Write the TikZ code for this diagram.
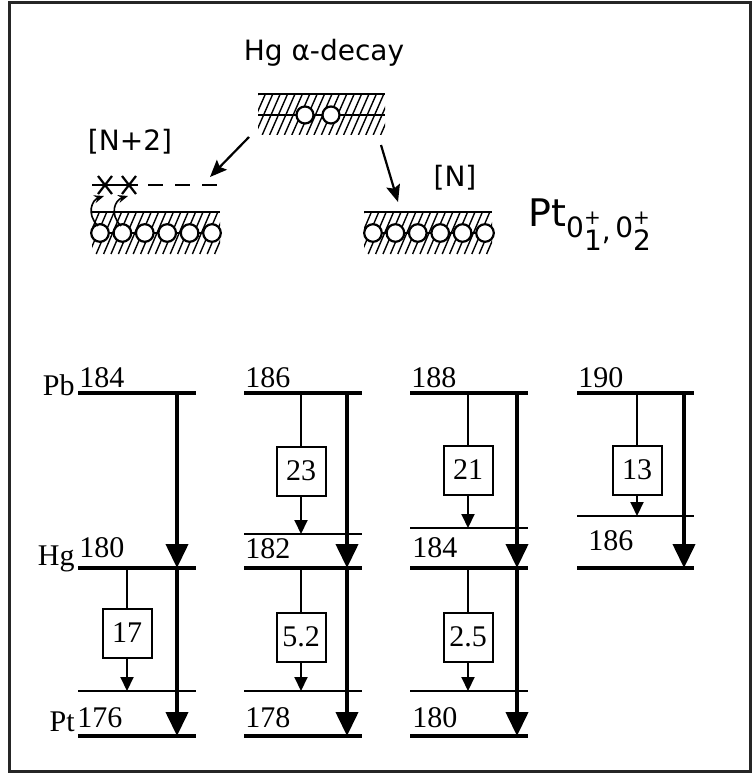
\documentclass[tikz,border=0pt]{standalone}
\usepackage{fontspec}
\setmainfont{Liberation Serif}
\newfontfamily\sketchfont{DejaVu Sans}
\usetikzlibrary{arrows.meta, positioning, calc}

% hatched band: x1, x2, ytop, ybottom
\newcommand{\hatchband}[4]{%
  \begin{scope}
    \clip (#1,#3) rectangle (#2,#4);
    \foreach \hx in {0,7.4,...,160}
      \draw[hatch] ({#1-18+\hx},#4) -- ({#1+\hx},#3);
  \end{scope}}

% 0^+_i state label
\newcommand{\pstate}[1]{\raisebox{-5.5pt}{0}\rlap{\raisebox{1.5pt}{\fontsize{10}{10}\selectfont +}}\raisebox{-12pt}{#1}}

\begin{document}
\begin{tikzpicture}[x=0.5pt, y=-0.5pt,
  level/.style={line width=2pt},
  sublevel/.style={line width=1pt},
  bigdecay/.style={line width=2pt, -{Triangle[length=12pt,width=11pt]}},
  smalldecay/.style={line width=1pt, -{Triangle[length=7pt,width=6.5pt]}},
  feed/.style={line width=1pt},
  ratio/.style={draw, line width=1pt, minimum size=24.5pt, inner sep=0pt, font=\fontsize{15}{15}\selectfont},
  mass/.style={anchor=base west, inner sep=0pt, font=\fontsize{15}{15}\selectfont},
  elem/.style={anchor=base east, inner sep=0pt, font=\fontsize{15}{15}\selectfont},
  hatch/.style={line width=0.7pt},
  band/.style={line width=1.1pt},
  sketch/.style={font=\sketchfont\fontsize{14}{16}\selectfont},
  decay/.style={line width=1.1pt, -{Stealth[length=8.5pt,width=7pt,inset=1.5pt]}},
  hop/.style={line width=0.8pt, -{Stealth[length=5pt,width=4pt]}}
]
  \useasboundingbox (0,0) rectangle (754,775);
  \draw[line width=1.5pt, black!85] (9,3) rectangle (750,771);

  % Sketch: Hg alpha-decay
  \node[sketch] (title) at (324,53) {Hg α-decay};
  \hatchband{258}{385}{94}{135}
  \draw[band] (258,94) -- (385,94);
  \draw[band] (258,115) -- (385,115);
  \foreach \cx in {305,331}
    \draw[band, fill=white] (\cx,115) circle[radius=8.5];

  % Pt [N+2]
  \node[sketch] (npair) at (130,142) {[N+2]};
  \hatchband{92}{220}{212}{254}
  \draw[band] (92,212) -- (220,212);
  \draw[band] (100,233) -- (212,233);
  \foreach \k in {0,...,5}
    \draw[band, fill=white] ({100+22.4*\k},233) circle[radius=8.8];
  \draw[band] (92,185) -- (138,185);
  \draw[band, dash pattern=on 7.5pt off 6pt] (148,185) -- (220,185);
  \foreach \cx in {105,129}
    \draw[band] (\cx-7,176) -- (\cx+7,194) (\cx-7,194) -- (\cx+7,176);
  \coordinate (h1) at (98,226);  \coordinate (x1) at (104,196);
  \coordinate (h2) at (121,226); \coordinate (x2) at (128,196);
  \draw[hop] (h1) .. controls (86,214) and (92,200) .. (x1);
  \draw[hop] (h2) .. controls (109,214) and (115,200) .. (x2);

  % Pt [N]
  \node[sketch] (nsingle) at (455,178) {[N]};
  \hatchband{364}{492}{212}{254}
  \draw[band] (364,212) -- (492,212);
  \draw[band] (373,233) -- (485,233);
  \foreach \k in {0,...,5}
    \draw[band, fill=white] ({373+22.4*\k},233) circle[radius=8.8];
  \node[anchor=base west, inner sep=0pt, font=\sketchfont\fontsize{19}{19}\selectfont] (ptstates) at (528,227)
    {Pt{\fontsize{14}{14}\selectfont\pstate{1}\raisebox{-7pt}{,}\,\pstate{2}}};

  % decay arrows of the sketch
  \coordinate (hgl) at (249,137); \coordinate (npl) at (210,177);
  \coordinate (hgr) at (381,145); \coordinate (nsl) at (398,202);
  \draw[decay] (hgl) -- (npl);
  \draw[decay] (hgr) -- (nsl);

  % Element labels
  \node[elem] (pb) at (75,395) {Pb};
  \node[elem] (hg) at (75,565) {Hg};
  \node[elem] (pt) at (75,731) {Pt};

  % Column 1: 184 -> 180 -> 176
  \draw[level] (78,393) -- (196,393);
  \draw[level] (78,568) -- (196,568);
  \draw[sublevel] (78,691) -- (196,691);
  \draw[level] (78,736) -- (196,736);
  \node[mass] at (79,387) {184};
  \node[mass] at (79,557) {180};
  \node[mass] at (77,727) {176};
  \coordinate (c1pb) at (177,393);
  \coordinate (c1hg) at (177,568);
  \coordinate (c1x)  at (177,691);
  \coordinate (c1pt) at (177,736);
  \draw[bigdecay] (c1pb) -- (c1hg);
  \draw[bigdecay] (c1hg) -- (c1pt);
  \node[ratio] (r17) at (127,633) {17};
  \draw[feed] (r17 |- c1hg) -- (r17.north);
  \draw[smalldecay] (r17.south) -- (r17 |- c1x);

  % Column 2: 186 -> 182 -> 178
  \draw[level] (244,393) -- (362,393);
  \draw[sublevel] (244,534) -- (362,534);
  \draw[level] (244,568) -- (362,568);
  \draw[sublevel] (244,691) -- (362,691);
  \draw[level] (244,736) -- (362,736);
  \node[mass] at (245,387) {186};
  \node[mass] at (245,558) {182};
  \node[mass] at (245,727) {178};
  \coordinate (c2pb) at (347,393);
  \coordinate (c2x1) at (347,534);
  \coordinate (c2hg) at (347,568);
  \coordinate (c2x2) at (347,691);
  \coordinate (c2pt) at (347,736);
  \draw[bigdecay] (c2pb) -- (c2hg);
  \draw[bigdecay] (c2hg) -- (c2pt);
  \node[ratio] (r23) at (301,471) {23};
  \draw[feed] (r23 |- c2pb) -- (r23.north);
  \draw[smalldecay] (r23.south) -- (r23 |- c2x1);
  \node[ratio] (r52) at (301,637) {5.2};
  \draw[feed] (r52 |- c2hg) -- (r52.north);
  \draw[smalldecay] (r52.south) -- (r52 |- c2x2);

  % Column 3: 188 -> 184 -> 180
  \draw[level] (410,393) -- (528,393);
  \draw[sublevel] (410,528) -- (528,528);
  \draw[level] (410,568) -- (528,568);
  \draw[sublevel] (410,691) -- (528,691);
  \draw[level] (410,736) -- (528,736);
  \node[mass] at (411,387) {188};
  \node[mass] at (412,557) {184};
  \node[mass] at (412,727) {180};
  \coordinate (c3pb) at (517,393);
  \coordinate (c3x1) at (517,528);
  \coordinate (c3hg) at (517,568);
  \coordinate (c3x2) at (517,691);
  \coordinate (c3pt) at (517,736);
  \draw[bigdecay] (c3pb) -- (c3hg);
  \draw[bigdecay] (c3hg) -- (c3pt);
  \node[ratio] (r21) at (468,470) {21};
  \draw[feed] (r21 |- c3pb) -- (r21.north);
  \draw[smalldecay] (r21.south) -- (r21 |- c3x1);
  \node[ratio] (r25) at (468,637) {2.5};
  \draw[feed] (r25 |- c3hg) -- (r25.north);
  \draw[smalldecay] (r25.south) -- (r25 |- c3x2);

  % Column 4: 190 -> 186
  \draw[level] (577,393) -- (694,393);
  \draw[sublevel] (577,516) -- (694,516);
  \draw[level] (577,568) -- (694,568);
  \node[mass] at (578,387) {190};
  \node[mass] at (588,550) {186};
  \coordinate (c4pb) at (684,393);
  \coordinate (c4x1) at (684,516);
  \coordinate (c4hg) at (684,568);
  \draw[bigdecay] (c4pb) -- (c4hg);
  \node[ratio] (r13) at (637,470) {13};
  \draw[feed] (r13 |- c4pb) -- (r13.north);
  \draw[smalldecay] (r13.south) -- (r13 |- c4x1);

\end{tikzpicture}
\end{document}
